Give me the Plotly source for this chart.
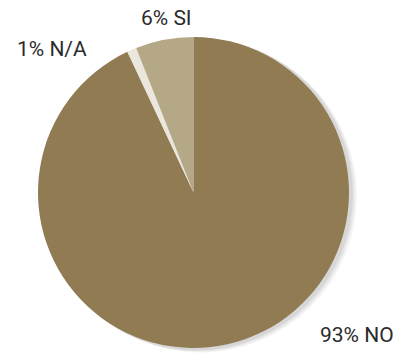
import plotly.graph_objects as go

labels = ["NO", "N/A", "SI"]
values = [93, 1, 6]
colors = ["#907b53", "#ece7dd", "#b5a887"]
label_pos = [(357, 335), (52, 49), (166, 18)]  # pixel centres of the outside labels

W, H = 398, 354
cx, cy, r = 193.5, 192.5, 155.5

def dom(cx, cy, r):
    return dict(x=[(cx - r) / W, (cx + r) / W], y=[(H - cy - r) / H, (H - cy + r) / H])

fig = go.Figure()
# soft shadow layers
for dx, a in [(7, 0.05), (5, 0.07), (3, 0.09)]:
    fig.add_trace(go.Pie(values=[1], labels=["s"], marker=dict(colors=[f"rgba(60,60,60,{a})"]),
                         textinfo="none", hoverinfo="skip", sort=False, showlegend=False,
                         domain=dom(cx + dx, cy + dx * 0.5, r + 1)))
fig.add_trace(go.Pie(
    labels=labels, values=values, sort=False, direction="clockwise", rotation=0,
    marker=dict(colors=colors, line=dict(width=0)),
    textinfo="none", showlegend=False, domain=dom(cx, cy, r),
))

total = sum(values)
for lab, v, (px, py) in zip(labels, values, label_pos):
    fig.add_annotation(x=px / W, y=1 - py / H, xref="paper", yref="paper",
                       text=f"{round(100 * v / total)}% {lab}", showarrow=False,
                       font=dict(family="Roboto", size=21, color="#2b2b2b"),
                       xanchor="center", yanchor="middle")

fig.update_layout(width=W, height=H, margin=dict(l=0, r=0, t=0, b=0),
                  paper_bgcolor="white", plot_bgcolor="white")
fig.write_html("out.html")
